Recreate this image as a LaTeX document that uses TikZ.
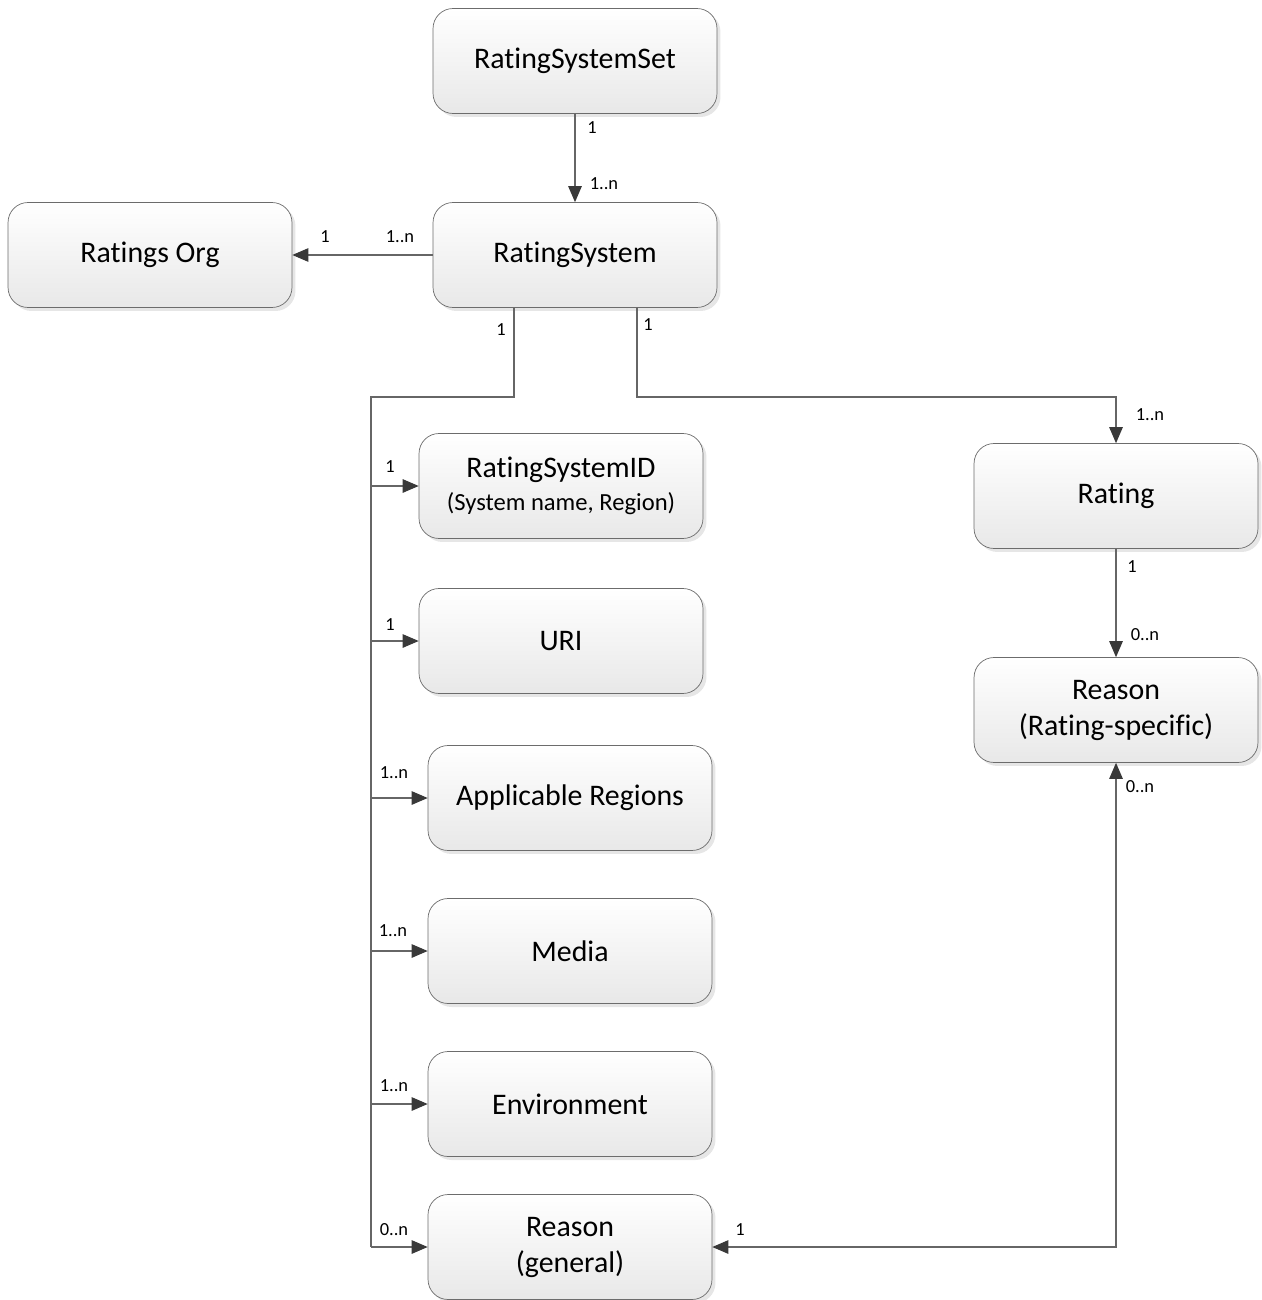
\documentclass[tikz,border=0pt]{standalone}
\usepackage{fontspec}
\setmainfont[Ligatures=NoCommon]{Carlito}
\usetikzlibrary{arrows.meta}
\usetikzlibrary{shadows}

\begin{document}
\begin{tikzpicture}[x=0.02cm,y=-0.02cm,
    entity/.style={draw=gray!85!black, rounded corners=0.4cm,
        top color=white, bottom color=gray!18,
        minimum width=5.68cm, minimum height=2.1cm, align=center,
        font=\fontsize{17}{20.5}\selectfont,
        drop shadow={shadow xshift=0.07cm, shadow yshift=-0.07cm, opacity=0.2}},
    link/.style={draw=gray!80!black, line width=0.6pt},
    head/.tip={Triangle[length=0.32cm,width=0.27cm,color=gray!45!black]},
    tip/.style={-head},
    mult/.style={font=\fontsize{10.5}{12}\selectfont, inner sep=0pt}]
        \useasboundingbox (0,0) rectangle (1261,1300);

        % Entities
        \node [entity] (set)     at (575,61)   {RatingSystemSet};
        \node [entity] (sys)     at (575,255)  {RatingSystem};
        \node [entity] (org)     at (150,255)  {Ratings Org};
        \node [entity] (sysid)   at (561,486)
            {RatingSystemID\\[-2pt]{\fontsize{14}{16}\selectfont (System name, Region)}};
        \node [entity] (uri)     at (561,641)  {URI};
        \node [entity] (regions) at (570,798)  {Applicable Regions};
        \node [entity] (media)   at (570,951)  {Media};
        \node [entity] (env)     at (570,1104) {Environment};
        \node [entity] (rgen)    at (570,1247) {Reason\\(general)};
        \node [entity] (rating)  at (1116,496) {Rating};
        \node [entity] (rspec)   at (1116,710) {Reason\\(Rating-specific)};

        % Bus corners
        \coordinate (busL) at (371,397);
        \coordinate (busR) at (1116,397);

        % Connectors
        \draw [link,tip] (set) -- (sys);
        \draw [link,tip] (sys) -- (org);
        \draw [link] ([xshift=-1.22cm]sys.south) |- (busL) -- (busL |- rgen.west);
        \foreach \n in {sysid,uri,regions,media,env,rgen}
            \draw [link,tip] (busL |- \n.west) -- (\n.west);
        \draw [link,tip] ([xshift=1.24cm]sys.south) |- (busR) -- (rating);
        \draw [link,tip] (rating) -- (rspec);
        \draw [link,head-head] (rgen) -| (rspec);

        % Multiplicities
        \node [mult] (m1)  at (592,128)  {1};
        \node [mult] (m2)  at (604,184)  {1..n};
        \node [mult] (m3)  at (325,237)  {1};
        \node [mult] (m4)  at (400,237)  {1..n};
        \node [mult] (m5)  at (501,330)  {1};
        \node [mult] (m6)  at (648,325)  {1};
        \node [mult] (m7)  at (1150,415) {1..n};
        \node [mult] (m8)  at (1132,567) {1};
        \node [mult] (m9)  at (1145,635) {0..n};
        \node [mult] (m10) at (1140,787) {0..n};
        \node [mult] (m11) at (740,1230) {1};
        \node [mult] (m12) at (390,467)  {1};
        \node [mult] (m13) at (390,625)  {1};
        \node [mult] (m14) at (394,773)  {1..n};
        \node [mult] (m15) at (393,931)  {1..n};
        \node [mult] (m16) at (394,1086) {1..n};
        \node [mult] (m17) at (394,1230) {0..n};
    \end{tikzpicture}
\end{document}
